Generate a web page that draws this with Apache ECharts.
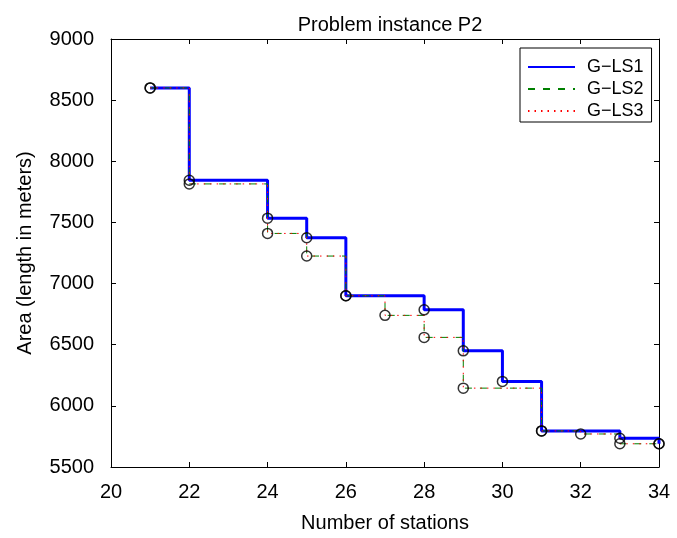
<!DOCTYPE html>
<html><head><meta charset="utf-8">
<script src="https://cdn.jsdelivr.net/npm/echarts@6/dist/echarts.min.js"></script>
<style>html,body{margin:0;padding:0;background:#fff}#c{width:677px;height:538px}</style>
</head><body><div id="c"></div>
<script>
const stationsLS1 = [21,22,24,25,26,28,29,30,31,33,34];
const areaLS1 = [8600,7845,7535,7375,6900,6785,6450,6200,5795,5735,5690];
const stationsLS2 = [21,22,24,25,26,27,28,29,31,32,33,34];
const areaLS2 = [8600,7815,7410,7225,6900,6740,6560,6145,5795,5770,5690,5690];
const stationsLS3 = [21,22,24,25,26,27,28,29,31,32,33,34];
const areaLS3 = [8600,7815,7410,7225,6900,6740,6560,6145,5795,5770,5690,5690];
const xTicks = [20,22,24,26,28,30,32,34];
const yTicks = [5500,6000,6500,7000,7500,8000,8500,9000];

const zip = (xs, ys) => xs.map((x,i)=>[x, ys[i]]);
const font = 'Liberation Sans, Arial, Helvetica, sans-serif';
const chart = echarts.init(document.getElementById('c'), null, {renderer:'canvas'});
const tickStyle = {show:true, inside:true, length:5, lineStyle:{color:'#000', width:1}};
const markerSeries = (xs, ys) => ({
  type:'scatter', data: zip(xs, ys), symbol:'circle', symbolSize:10,
  itemStyle:{color:'rgba(0,0,0,0)', borderColor:'#000', borderWidth:1.5},
  z:5, silent:true, legendHoverLink:false
});
chart.setOption({
  animation:false,
  backgroundColor:'#fff',
  title:{text:'Problem instance P2', left:385, top:10, textAlign:'center',
    textStyle:{fontFamily:font, fontSize:20, fontWeight:'normal', color:'#000'}},
  grid:{left:111, right:18, top:39, bottom:67, show:false},
  legend:{
    left:520, top:48, orient:'vertical', itemWidth:47, itemHeight:12, itemGap:4,
    padding:[10,8,2,7], borderColor:'#000', borderWidth:1, backgroundColor:'#fff',
    itemStyle:{opacity:0},
    textStyle:{fontFamily:font, fontSize:18, color:'#000', padding:[0,0,0,7]},
    data:['G\u2212LS1','G\u2212LS2','G\u2212LS3']
  },
  xAxis:[{
    type:'value', min:xTicks[0], max:xTicks[xTicks.length-1], interval:2,
    axisLine:{show:true, onZero:false, lineStyle:{color:'#000', width:1}},
    axisTick:tickStyle, splitLine:{show:false},
    axisLabel:{margin:15, fontFamily:font, fontSize:20, color:'#000'},
    name:'Number of stations', nameLocation:'middle', nameGap:46,
    nameTextStyle:{fontFamily:font, fontSize:20, color:'#000'}
  },{
    type:'value', position:'top', min:xTicks[0], max:xTicks[xTicks.length-1], interval:2,
    axisLine:{show:true, onZero:false, lineStyle:{color:'#000', width:1}},
    axisTick:tickStyle, axisLabel:{show:false}, splitLine:{show:false}
  }],
  yAxis:[{
    type:'value', min:yTicks[0], max:yTicks[yTicks.length-1], interval:500,
    axisLine:{show:true, onZero:false, lineStyle:{color:'#000', width:1}},
    axisTick:tickStyle, splitLine:{show:false},
    axisLabel:{margin:17, fontFamily:font, fontSize:20, color:'#000', formatter: v => String(v)},
    name:'Area (length in meters)', nameLocation:'middle', nameGap:76, nameRotate:90,
    nameTextStyle:{fontFamily:font, fontSize:20, color:'#000'}
  },{
    type:'value', position:'right', min:yTicks[0], max:yTicks[yTicks.length-1], interval:500,
    axisLine:{show:true, onZero:false, lineStyle:{color:'#000', width:1}},
    axisTick:tickStyle, axisLabel:{show:false}, splitLine:{show:false}
  }],
  series:[
    {name:'G\u2212LS1', type:'line', step:'end', data:zip(stationsLS1, areaLS1),
      symbol:'none', lineStyle:{color:'#0000ff', width:3}, itemStyle:{color:'#0000ff'}, z:2},
    {name:'G\u2212LS2', type:'line', step:'end', data:zip(stationsLS2, areaLS2),
      symbol:'none', lineStyle:{color:'#008000', width:1, type:[7,8]}, itemStyle:{color:'#008000'}, z:3},
    {name:'G\u2212LS3', type:'line', step:'end', data:zip(stationsLS3, areaLS3),
      symbol:'none', lineStyle:{color:'#ff0000', width:1, type:[1.5,5]}, itemStyle:{color:'#ff0000'}, z:4},
    markerSeries(stationsLS1, areaLS1),
    markerSeries(stationsLS2, areaLS2)
  ]
});
</script></body></html>
